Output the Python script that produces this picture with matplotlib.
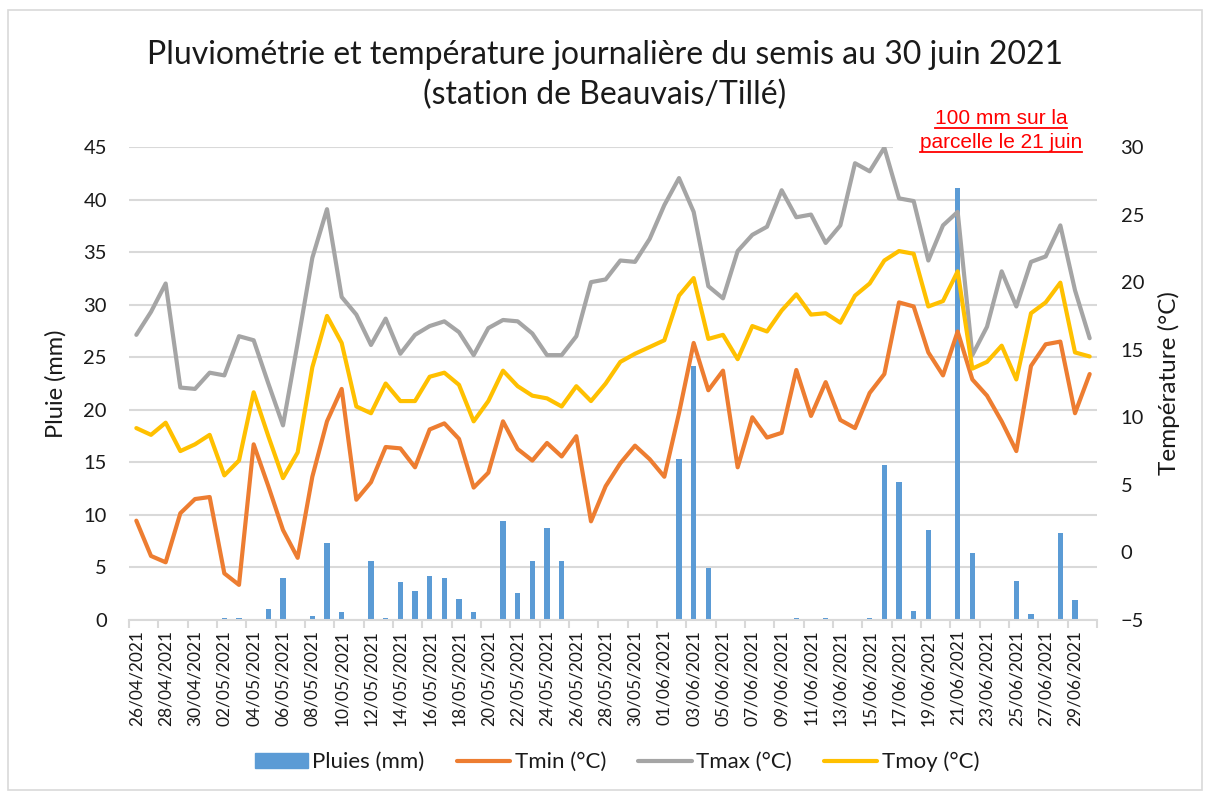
import numpy as np
import matplotlib
matplotlib.use("Agg")
from matplotlib import pyplot as plt
from matplotlib.patches import Rectangle
from matplotlib.lines import Line2D
from datetime import date, timedelta

plt.rcParams['font.family'] = ['Lato', 'DejaVu Sans']

start = date(2021, 4, 26)
dates = [start + timedelta(days=k) for k in range(66)]
labels = [d.strftime("%d/%m/%Y") for d in dates]

pluie = [0, 0, 0, 0, 0, 0, 0.2, 0.2, 0, 1.0,
         4.0, 0, 0.4, 7.3, 0.8, 0, 5.6, 0.2, 3.6, 2.8,
         4.2, 4.0, 2.0, 0.8, 0, 9.4, 2.6, 5.6, 8.8, 5.6,
         0, 0, 0, 0, 0, 0, 0, 15.3, 24.2, 4.9,
         0, 0, 0, 0, 0, 0.2, 0, 0.2, 0, 0,
         0.2, 14.7, 13.1, 0.9, 8.6, 0, 41.1, 6.4, 0, 0,
         3.7, 0.6, 0, 8.3, 1.9, 0]

tmin = [2.35, -0.26, -0.73, 2.9, 3.95, 4.1, -1.55, -2.4, 8.0, 4.9,
        1.66, -0.4, 5.6, 9.7, 12.1, 3.9, 5.2, 7.8, 7.7, 6.3,
        9.1, 9.55, 8.4, 4.8, 5.9, 9.7, 7.65, 6.8, 8.1, 7.1,
        8.6, 2.3, 4.9, 6.6, 7.9, 6.9, 5.6, 10.3, 15.5, 12.0,
        13.45, 6.3, 10.0, 8.5, 8.85, 13.5, 10.1, 12.6, 9.8, 9.2,
        11.8, 13.2, 18.5, 18.2, 14.8, 13.1, 16.35, 12.8, 11.6, 9.7,
        7.5, 13.8, 15.4, 15.6, 10.3, 13.2]

tmax = [16.1, 17.8, 19.9, 12.2, 12.1, 13.3, 13.1, 16.0, 15.7, 12.5,
        9.4, 15.5, 21.8, 25.4, 18.9, 17.6, 15.35, 17.3, 14.7, 16.1,
        16.75, 17.1, 16.3, 14.6, 16.6, 17.2, 17.1, 16.2, 14.6, 14.6,
        16.0, 20.0, 20.2, 21.6, 21.5, 23.2, 25.7, 27.7, 25.2, 19.7,
        18.8, 22.3, 23.5, 24.1, 26.8, 24.8, 25.0, 22.9, 24.2, 28.8,
        28.2, 29.95, 26.2, 26.0, 21.6, 24.2, 25.2, 14.6, 16.7, 20.8,
        18.2, 21.5, 21.9, 24.2, 19.4, 15.85]

tmoy = [9.2, 8.7, 9.6, 7.5, 8.0, 8.7, 5.7, 6.8, 11.85, 8.6,
        5.5, 7.4, 13.7, 17.5, 15.5, 10.8, 10.3, 12.5, 11.2, 11.2,
        13.0, 13.3, 12.4, 9.7, 11.2, 13.45, 12.3, 11.6, 11.4, 10.8,
        12.3, 11.2, 12.5, 14.1, 14.7, 15.2, 15.7, 19.0, 20.3, 15.8,
        16.1, 14.3, 16.75, 16.35, 17.9, 19.1, 17.6, 17.7, 17.0, 19.0,
        19.9, 21.6, 22.3, 22.1, 18.2, 18.6, 20.8, 13.6, 14.1, 15.3,
        12.8, 17.7, 18.5, 19.96, 14.8, 14.5]

c_bar = '#5b9bd5'
c_min = '#ed7d31'
c_max = '#a5a5a5'
c_moy = '#ffc000'
c_grid = '#d9d9d9'
c_txt = '#1a1a1a'

W, H = 1210, 794
fig = plt.figure(figsize=(W / 100, H / 100), dpi=100)
ax = fig.add_axes([129 / W, 1 - 620 / H, (1097 - 129) / W, (620 - 147) / H])
x = np.arange(len(dates))

ax.bar(x, pluie, width=0.38, color=c_bar, zorder=2)
ax.set_xlim(-0.5, len(dates) - 0.5)
ax.set_ylim(0, 45)
ax.set_yticks(range(0, 50, 5))
ax.yaxis.grid(True, color=c_grid, linewidth=1.5)
ax.set_axisbelow(True)
for s in ['top', 'left', 'right']:
    ax.spines[s].set_visible(False)
ax.spines['bottom'].set_color(c_grid)
ax.spines['bottom'].set_linewidth(1.5)
ax.tick_params(axis='y', length=0, labelsize=14.5, pad=16, labelcolor=c_txt)

ax.set_xticks(x[::2])
ax.set_xticklabels(labels[::2], rotation=90, fontsize=12.5, color=c_txt)
ax.set_xticks(np.arange(-0.5, len(dates), 2), minor=True)
ax.tick_params(axis='x', which='major', length=0, pad=7)
ax.tick_params(axis='x', which='minor', length=6, color=c_grid, width=1.5)
ax.set_ylabel("Pluie (mm)", fontsize=17, color=c_txt, labelpad=12)

ax2 = ax.twinx()
ax2.plot(x, tmin, color=c_min, linewidth=3, solid_capstyle='round')
ax2.plot(x, tmax, color=c_max, linewidth=3, solid_capstyle='round')
ax2.plot(x, tmoy, color=c_moy, linewidth=3, solid_capstyle='round')
ax2.set_ylim(-5, 30)
ax2.set_yticks(range(-5, 35, 5))
for s in ax2.spines.values():
    s.set_visible(False)
ax2.tick_params(axis='y', length=0, labelsize=14.5, pad=17, labelcolor=c_txt)
ax2.set_ylabel("Température (°C)", fontsize=17.5, color=c_txt, labelpad=10)

fig.text(0.5, 1 - 55 / H, "Pluviométrie et température journalière du semis au 30 juin 2021",
         ha='center', va='center', fontsize=23, color=c_txt)
fig.text(0.5, 1 - 95 / H, "(station de Beauvais/Tillé)",
         ha='center', va='center', fontsize=23, color=c_txt)

# note in red, underlined, on a white box
fig.patches.append(Rectangle((893 / W, 1 - 160 / H), 205 / W, 60 / H,
                             transform=fig.transFigure, facecolor='white',
                             edgecolor='none', zorder=5))
fig.canvas.draw()
r = fig.canvas.get_renderer()
for txt, yy in [("100 mm sur la", 118), ("parcelle le 21 juin", 142)]:
    t = fig.text(1001 / W, 1 - yy / H, txt, ha='center', va='center',
                 fontsize=15, color='#ff0000', family=['Liberation Sans'], zorder=6)
    bb = t.get_window_extent(r)
    yl = 1 - (yy + 10) / H
    fig.lines.append(Line2D([bb.x0 / W, bb.x1 / W], [yl, yl],
                            transform=fig.transFigure, color='#ff0000',
                            linewidth=1.3, zorder=6))

handles = [Rectangle((0, 0), 1, 1, color=c_bar),
           Line2D([], [], color=c_min, linewidth=3, solid_capstyle='round'),
           Line2D([], [], color=c_max, linewidth=3, solid_capstyle='round'),
           Line2D([], [], color=c_moy, linewidth=3, solid_capstyle='round')]
fig.legend(handles, ["Pluies (mm)", "Tmin (°C)", "Tmax (°C)", "Tmoy (°C)"],
           loc='center', bbox_to_anchor=(617 / W, 1 - 762 / H), ncol=4,
           frameon=False, fontsize=16, handlelength=2.4, handleheight=0.65,
           columnspacing=1.45, handletextpad=0.2, labelcolor=c_txt)

fig.patches.append(Rectangle((8 / W, 4 / H), 1194 / W, 780 / H,
                             transform=fig.transFigure, facecolor='none',
                             edgecolor='#d9d9d9', linewidth=1.2))

fig.savefig("out.png", dpi=100)
